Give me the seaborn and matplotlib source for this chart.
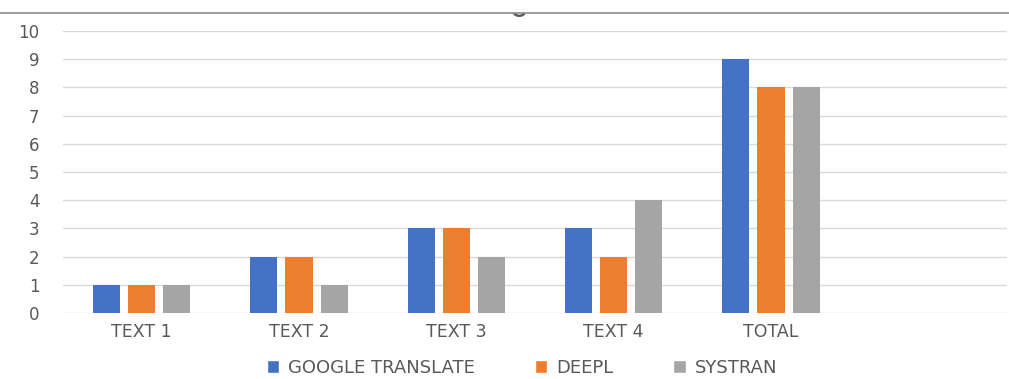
import pandas as pd
import matplotlib.pyplot as plt
import seaborn as sns
from matplotlib.patches import Rectangle
from matplotlib.lines import Line2D

# Data
categories = ["TEXT 1", "TEXT 2", "TEXT 3", "TEXT 4", "TOTAL", " "]
google_translate = [1, 2, 3, 3, 9, 0]
deepl = [1, 2, 3, 2, 8, 0]
systran = [1, 1, 2, 4, 8, 0]
series_names = ["GOOGLE TRANSLATE", "DEEPL", "SYSTRAN"]
colors = ["#4472C4", "#ED7D31", "#A5A5A5"]

df = pd.DataFrame({
    "category": categories * 3,
    "series": [series_names[0]] * 6 + [series_names[1]] * 6 + [series_names[2]] * 6,
    "value": google_translate + deepl + systran,
})

sns.set_style("white")
plt.rcParams["font.family"] = ["DejaVu Sans"]
text_color = "#595959"

fig = plt.figure(figsize=(10.09, 3.79), dpi=100)
ax = fig.add_axes([63 / 1009, 1 - 313 / 379, (1007 - 63) / 1009, (313 - 31) / 379])

sns.barplot(data=df, x="category", y="value", hue="series", order=categories,
            hue_order=series_names, palette=colors, width=0.67, gap=0.23,
            saturation=1, linewidth=0, ax=ax, legend=False)

ax.set_ylim(0, 10)
ax.set_xlim(-0.5, 5.5)
ax.set_yticks(range(0, 11))
ax.yaxis.grid(True, color="#D9D9D9", linewidth=1)
ax.set_axisbelow(True)
for s in ax.spines.values():
    s.set_visible(False)
ax.tick_params(axis="both", length=0, colors=text_color)
ax.tick_params(axis="x", pad=7, labelsize=12.5)
ax.tick_params(axis="y", pad=17, labelsize=12)
ax.set_xlabel("")
ax.set_ylabel("")

# cropped title remnant (cut off at the top, as in the source) and top border
fig.text(519 / 1009, 1 - 17 / 379, "o", ha="center", va="baseline",
         fontsize=22, color=text_color)
fig.patches.append(Rectangle((0, 1 - 13 / 379), 1, 13 / 379, transform=fig.transFigure,
                             facecolor="white", edgecolor="none", zorder=5))
fig.lines.append(Line2D([0, 1], [1 - 13 / 379, 1 - 13 / 379], transform=fig.transFigure,
                        color="#8C8C8C", linewidth=1.2, zorder=6))

handles = [Rectangle((0, 0), 1, 1, facecolor=c) for c in colors]
fig.legend(handles, series_names, loc="center", bbox_to_anchor=(522 / 1009, 1 - 368 / 379),
           ncol=3, frameon=False, fontsize=13, handlelength=0.7, handleheight=0.7,
           handletextpad=0.5, columnspacing=3.3, labelcolor=text_color)

fig.savefig("out.png", dpi=100)
